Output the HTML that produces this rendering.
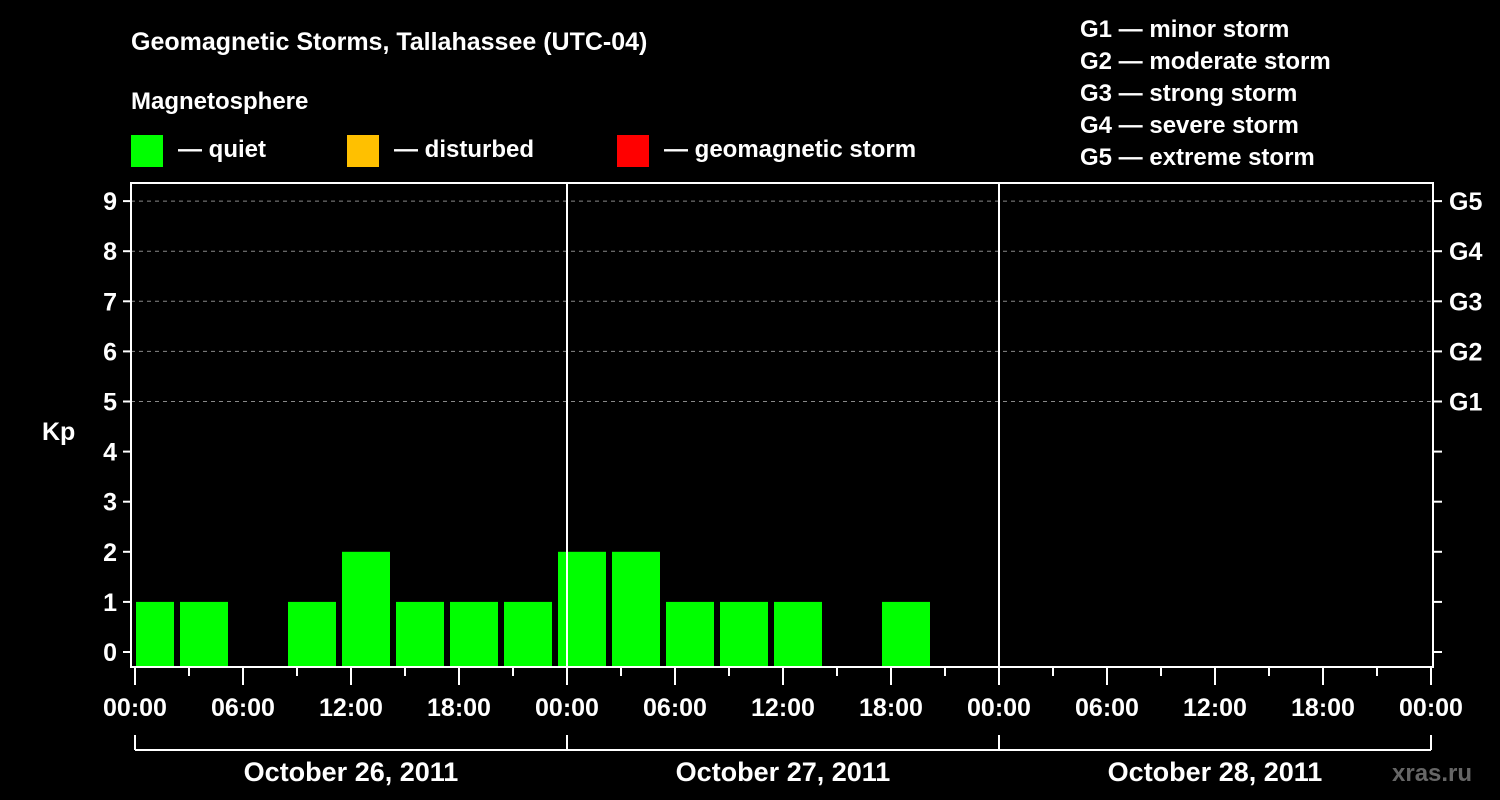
<!DOCTYPE html>
<html><head><meta charset="utf-8"><style>
html,body{margin:0;padding:0;background:#000;}
svg{display:block;font-family:"Liberation Sans",Arial,sans-serif;font-weight:bold;}
</style></head><body>
<svg id="c" width="1500" height="800" xmlns="http://www.w3.org/2000/svg">
<rect x="0" y="0" width="1500" height="800" fill="#000"/>
<text x="131" y="50" fill="#fff" font-size="25">Geomagnetic Storms, Tallahassee (UTC-04)</text>
<text x="131" y="109" fill="#fff" font-size="24">Magnetosphere</text>
<g><rect x="131" y="135" width="32" height="32" fill="#00ff00"/><text x="178" y="157" fill="#fff" font-size="24">— quiet</text></g>
<g><rect x="347" y="135" width="32" height="32" fill="#ffc000"/><text x="394" y="157" fill="#fff" font-size="24">— disturbed</text></g>
<g><rect x="617" y="135" width="32" height="32" fill="#ff0000"/><text x="664" y="157" fill="#fff" font-size="24">— geomagnetic storm</text></g>
<g fill="#fff" font-size="24">
<text x="1080" y="37">G1 — minor storm</text>
<text x="1080" y="69">G2 — moderate storm</text>
<text x="1080" y="101">G3 — strong storm</text>
<text x="1080" y="133">G4 — severe storm</text>
<text x="1080" y="165">G5 — extreme storm</text>
</g>
<text x="42" y="440" fill="#fff" font-size="25">Kp</text>
<text x="1392" y="781" fill="#666" font-size="24">xras.ru</text>
<g id="grid"></g><g id="bars"></g><g id="axes"></g>
</svg>
<script>
const kpValues=[1,1,null,1,2,1,1,1,2,2,1,1,1,null,1,null,null,null,null,null,null,null,null,null];
const yTicks=[0,1,2,3,4,5,6,7,8,9];
const gLabels=["G1","G2","G3","G4","G5"];
const gLevels=[5,6,7,8,9];
const xLabels=["00:00","06:00","12:00","18:00","00:00","06:00","12:00","18:00","00:00","06:00","12:00","18:00","00:00"];
const dayLabels=["October 26, 2011","October 27, 2011","October 28, 2011"];
const NS="http://www.w3.org/2000/svg";
const L=131,R=1433,T=183,B=667,X0=135,PXH=18;
function y(v){return 652-50.1*v;}
function x(h){return X0+h*PXH;}
function mk(p,tag,a){const e=document.createElementNS(NS,tag);for(const k in a)e.setAttribute(k,a[k]);p.appendChild(e);return e;}
const grid=document.getElementById('grid'),bars=document.getElementById('bars'),axes=document.getElementById('axes');
yTicks.forEach(v=>{if(v>=5){const l=mk(grid,'line',{x1:L,x2:R,y1:y(v),y2:y(v),stroke:'#888','stroke-dasharray':'4,4','stroke-width':1});

}});
kpValues.forEach((v,i)=>{if(v==null)return;
const bx=x(i*3-0.5),bw=48;const x1=Math.max(bx,L+5);const top=y(v);
const r=mk(bars,'rect',{x:x1,y:top,width:bx+bw-x1,height:B-top,fill:v>=5?'#ff0000':(v>=4?'#ffc000':'#00ff00')});

});
// frame
const fr=mk(axes,'rect',{x:L,y:T,width:R-L,height:B-T,fill:'none',stroke:'#fff','stroke-width':2});


[1,2].forEach(d=>{const l=mk(axes,'line',{x1:x(d*24),x2:x(d*24),y1:T,y2:B,stroke:'#fff','stroke-width':2});

});
yTicks.forEach(v=>{mk(axes,'line',{x1:L-8,x2:L,y1:y(v),y2:y(v),stroke:'#fff','stroke-width':2});
mk(axes,'line',{x1:R,x2:R+9,y1:y(v),y2:y(v),stroke:'#fff','stroke-width':2});
const t=mk(axes,'text',{x:L-14,y:y(v)+9,fill:'#fff','font-size':25,'text-anchor':'end'});t.textContent=v;

});
gLabels.forEach((g,i)=>{const t=mk(axes,'text',{x:R+16,y:y(gLevels[i])+9,fill:'#fff','font-size':25});t.textContent=g;

});
for(let h=0;h<=72;h+=3){const major=h%6===0;mk(axes,'line',{x1:x(h),x2:x(h),y1:B,y2:B+(major?18:9),stroke:'#fff','stroke-width':2});}
xLabels.forEach((s,i)=>{const t=mk(axes,'text',{x:x(i*6),y:716,fill:'#fff','font-size':25,'text-anchor':'middle'});t.textContent=s;

});
mk(axes,'line',{x1:x(0),x2:x(72),y1:750,y2:750,stroke:'#fff','stroke-width':2});
for(let d=0;d<=3;d++)mk(axes,'line',{x1:x(d*24),x2:x(d*24),y1:735,y2:750,stroke:'#fff','stroke-width':2});
dayLabels.forEach((s,i)=>{const t=mk(axes,'text',{x:x(i*24+12),y:781,fill:'#fff','font-size':27,'text-anchor':'middle'});t.textContent=s;

});
</script>
</body></html>
